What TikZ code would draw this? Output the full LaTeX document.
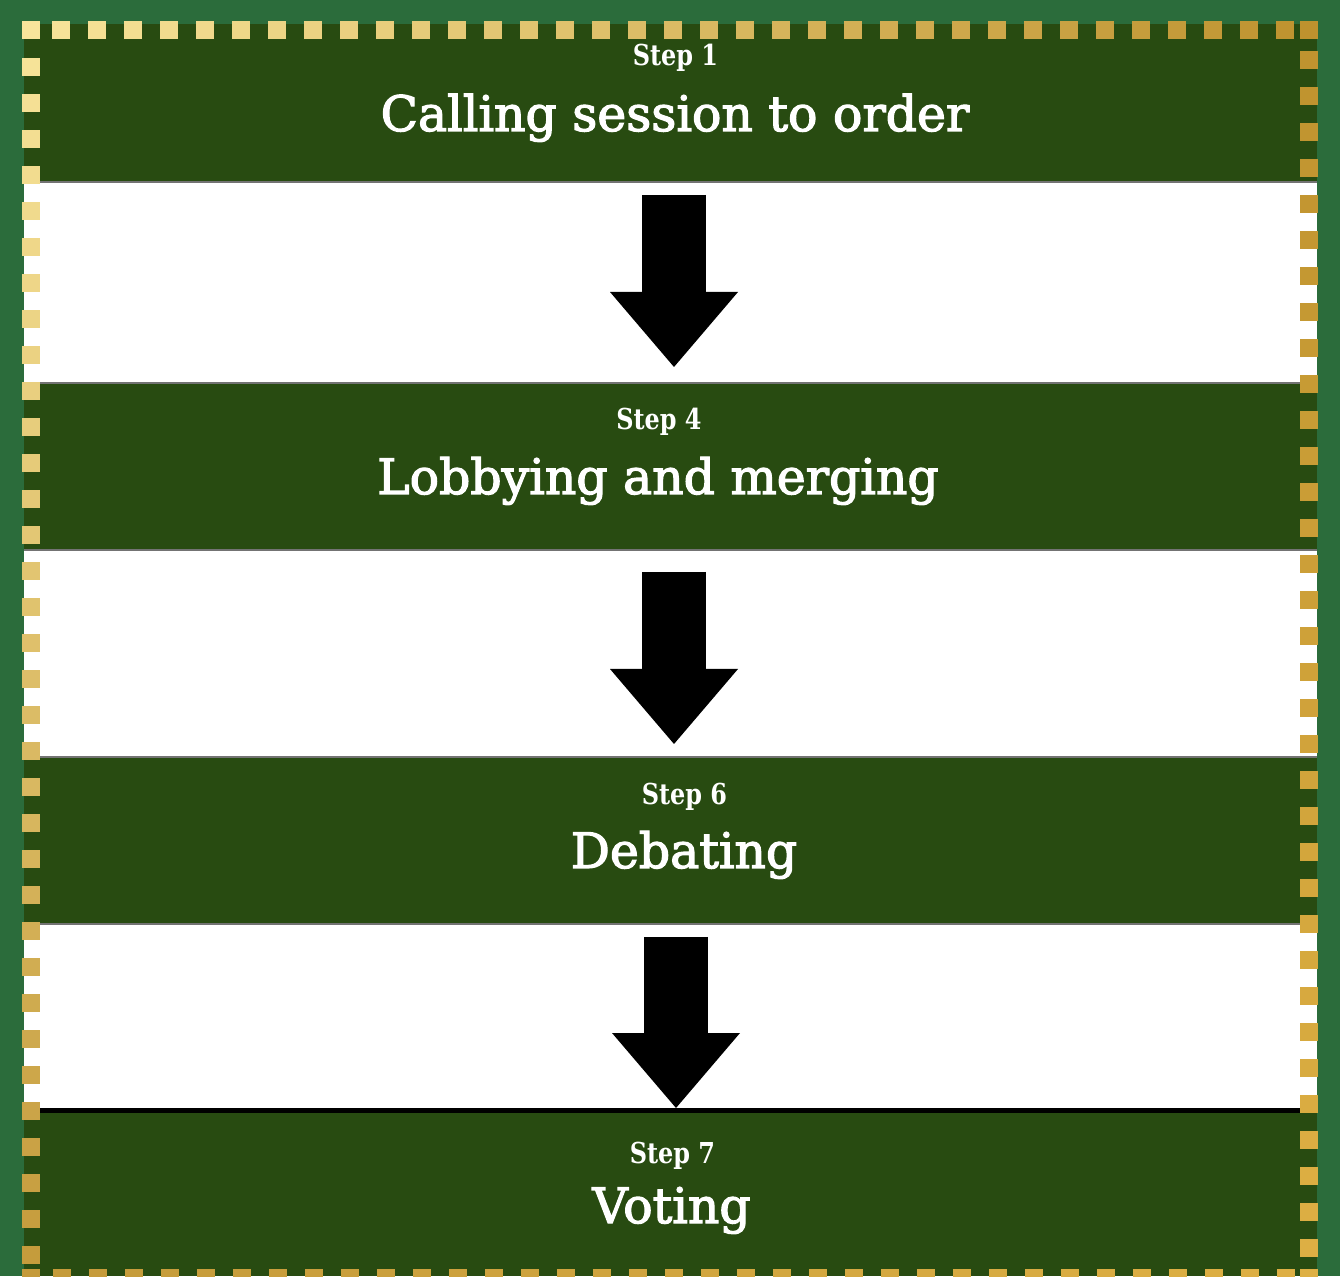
\documentclass[tikz,border=0pt]{standalone}
\usepackage{fontspec}
\setmainfont{DejaVu Serif}
\newfontfamily\titlefont{DejaVu Serif}[FakeBold=2.5]
\newfontfamily\stepfont{DejaVu Serif Bold}[FakeStretch=0.83]
\definecolor{framegreen}{RGB}{43,108,59}
\definecolor{bandgreen}{RGB}{40,75,17}
\definecolor{goldTL}{RGB}{248,229,155}
\definecolor{goldTR}{RGB}{190,146,46}
\definecolor{goldBL}{RGB}{196,154,58}
\definecolor{goldBR}{RGB}{222,176,68}
\usetikzlibrary{arrows.meta,positioning}

\begin{document}
\begin{tikzpicture}[
    band/.style={fill=bandgreen,minimum width=12.93cm,inner sep=0pt,outer sep=0pt},
    steplabel/.style={anchor=base,text=white,font=\fontsize{8.2pt}{9pt}\stepfont},
    titlelabel/.style={anchor=base,text=white,font=\fontsize{13.9pt}{16pt}\titlefont},
    flowarrow/.style={line width=6.4mm,
        -{Triangle[width=12.8mm,length=7.5mm,line width=0pt]}},
    bandedge/.style={line width=0.25mm,black!55}]
  \useasboundingbox (0,0) rectangle (13.40,12.76);
  \fill[framegreen] (0,0) rectangle (13.40,12.76);
  \fill[white] (0.24,0) rectangle (13.17,12.52);
  %% Bands
  \node[band,minimum height=1.58cm] (b1) at (6.705,11.73) {};
  \node[band,minimum height=1.67cm] (b2) at (6.705,8.095) {};
  \node[band,minimum height=1.67cm] (b3) at (6.705,4.355) {};
  \node[band,minimum height=1.66cm] (b4) at (6.705,0.83) {};
  \draw[bandedge] (b1.south west) -- (b1.south east);
  \draw[bandedge] (b2.north west) -- (b2.north east);
  \draw[bandedge] (b2.south west) -- (b2.south east);
  \draw[bandedge] (b3.north west) -- (b3.north east);
  \draw[bandedge] (b3.south west) -- (b3.south east);
  \draw[line width=0.5mm] (b4.north west) -- (b4.north east);
  %% Labels
  \node[steplabel] (s1) at (6.755,12.10) {Step 1};
  \node[titlelabel] (t1) at (6.75,11.45) {Calling session to order};
  \node[steplabel] (s4) at (6.59,8.46) {Step 4};
  \node[titlelabel] (t4) at (6.58,7.82) {Lobbying and merging};
  \node[steplabel] (s6) at (6.845,4.71) {Step 6};
  \node[titlelabel] (t6) at (6.84,4.08) {Debating};
  \node[steplabel] (s7) at (6.725,1.13) {Step 7};
  \node[titlelabel] (t7) at (6.715,0.53) {Voting};
  %% Arrows
  \draw[flowarrow,shorten <=1.3mm,shorten >=1.6mm]
    ([xshift=0.35mm]b1.south) -- ([xshift=0.35mm]b2.north);
  \draw[flowarrow,shorten <=2.2mm,shorten >=1.3mm]
    ([xshift=0.35mm]b2.south) -- ([xshift=0.35mm]b3.north);
  \draw[flowarrow,shorten <=1.3mm,shorten >=0.2mm]
    ([xshift=0.55mm]b3.south) -- ([xshift=0.55mm]b4.north);
  %% Gold border
  \fill[goldTL] (0.22,12.55) rectangle ++(0.18,-0.18);
  \fill[goldTR] (13.00,12.55) rectangle ++(0.18,-0.18);
  \fill[goldBL] (0.22,0.07) rectangle ++(0.18,-0.18);
  \fill[goldBR] (13.00,0.07) rectangle ++(0.18,-0.18);
  \foreach \k in {0,...,34}{
    \pgfmathtruncatemacro{\pct}{100-100*(\k+1)/36}
    \colorlet{sqtop}{goldTL!\pct!goldTR}
    \colorlet{sqbot}{goldBL!\pct!goldBR}
    \fill[sqtop] (0.52+0.36*\k,12.55) rectangle ++(0.18,-0.18);
    \fill[sqbot] (0.53+0.36*\k,0.07) rectangle ++(0.18,-0.18);
  }
  \foreach \k in {0,...,33}{
    \pgfmathtruncatemacro{\pct}{100-100*(\k+1)/35}
    \colorlet{sqleft}{goldTL!\pct!goldBL}
    \colorlet{sqright}{goldTR!\pct!goldBR}
    \fill[sqleft] (0.22,12.18-0.36*\k) rectangle ++(0.18,-0.18);
    \fill[sqright] (13.00,12.25-0.36*\k) rectangle ++(0.18,-0.18);
  }
\end{tikzpicture}
\end{document}
